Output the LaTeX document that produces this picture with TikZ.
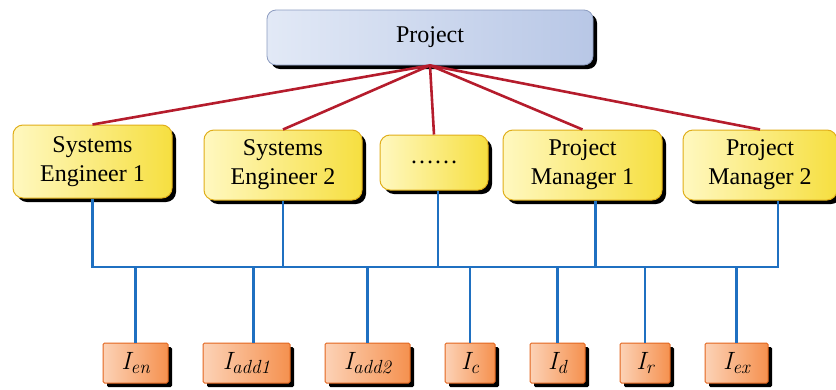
\documentclass[tikz,border=0pt]{standalone}
\usepackage{amsmath}
\usepackage{fontspec}
\setmainfont{Liberation Serif}
\newfontfamily\lmfont{Latin Modern Roman}
\usepackage{tikz}
\usetikzlibrary{shadows}

\definecolor{projLight}{HTML}{E2E9F6}
\definecolor{projDark}{HTML}{B8C7E6}
\definecolor{projLine}{HTML}{8C9CC0}
\definecolor{roleLight}{HTML}{FFF8C0}
\definecolor{roleDark}{HTML}{F6DF40}
\definecolor{roleLine}{HTML}{E0AE1A}
\definecolor{infoLight}{HTML}{FCD2B6}
\definecolor{infoDark}{HTML}{F5914F}
\definecolor{infoLine}{HTML}{E2651E}
\definecolor{redLink}{HTML}{B51C2C}
\definecolor{blueLink}{HTML}{1F70C1}

% item label: italic I with a large italic subscript
\newcommand{\infolabel}[1]{{\lmfont\itshape\fontsize{25}{30}\selectfont I}\raisebox{-4pt}{\lmfont\itshape\fontsize{19}{22}\selectfont #1}}

\begin{document}
\begin{tikzpicture}[x=1pt, y=-1pt,
  shade/.style={drop shadow={shadow xshift=4pt, shadow yshift=-4pt, fill=black, opacity=1}},
  top/.style={rectangle, rounded corners=9pt, draw=projLine, line width=0.8pt,
              left color=projLight, right color=projDark, shade,
              minimum width=326pt, minimum height=55pt, font=\fontsize{24}{29}\selectfont},
  role/.style={rectangle, rounded corners=10pt, draw=roleLine, line width=1pt,
               left color=roleLight, right color=roleDark, shade, align=center,
               minimum height=70pt, inner sep=0pt, font=\fontsize{24}{29}\selectfont},
  info/.style={rectangle, rounded corners=1.5pt, draw=infoLine, line width=1pt,
               left color=infoLight, right color=infoDark, shade,
               minimum height=40pt, inner sep=0pt},
  link/.style={draw=redLink, line width=2.6pt},
  wire/.style={draw=blueLink, line width=2.2pt}
]
\useasboundingbox (0,0) rectangle (836,389);

\node[top] (proj) at (430,37.5) {Project};

\node[role, minimum width=159pt, minimum height=73pt] (se1) at (92.5,161.5) {Systems\\Engineer 1};
\node[role, minimum width=158pt] (se2) at (283,165) {Systems\\Engineer 2};
\node[role, minimum width=108pt, minimum height=55pt] (dots) at (434,162.5) {\raisebox{-3pt}{……}};
\node[role, minimum width=159pt] (pm1) at (582.5,165) {Project\\Manager 1};
\node[role, minimum width=154pt] (pm2) at (760,165) {Project\\Manager 2};

\node[info, minimum width=65pt] (ien) at (135.5,363) {\infolabel{en}};
\node[info, minimum width=87pt] (iadda) at (246.5,363) {\infolabel{add1}};
\node[info, minimum width=85pt] (iaddb) at (367.5,363) {\infolabel{add2}};
\node[info, minimum width=50pt] (ic) at (470,363) {\infolabel{c}};
\node[info, minimum width=55pt] (id) at (557.5,363) {\infolabel{d}};
\node[info, minimum width=50pt] (ir) at (645,363) {\infolabel{r}};
\node[info, minimum width=63pt] (iex) at (736.5,363) {\infolabel{ex}};

% project to roles
\draw[link] (proj.south) -- (se1.north);
\draw[link] (proj.south) -- (se2.north);
\draw[link] (proj.south) -- (dots.north);
\draw[link] (proj.south) -- (pm1.north);
\draw[link] (proj.south) -- (pm2.north);

% roles to the common line
\coordinate (bus) at (0,267);
\draw[wire] (se1.south) -- (se1.south |- bus) -- ([xshift=18pt]pm2.south |- bus) -- ([xshift=18pt]pm2.south);
\draw[wire] (se2.south) -- (se2.south |- bus);
\draw[wire] ([xshift=4pt]dots.south) -- ([xshift=4pt]dots.south |- bus);
\draw[wire] ([xshift=13pt]pm1.south) -- ([xshift=13pt]pm1.south |- bus);

% common line to information items
\draw[wire] (ien.north |- bus) -- (ien.north);
\draw[wire] ([xshift=7pt]iadda.north |- bus) -- ([xshift=7pt]iadda.north);
\draw[wire] (iaddb.north |- bus) -- (iaddb.north);
\draw[wire] (ic.north |- bus) -- (ic.north);
\draw[wire] (id.north |- bus) -- (id.north);
\draw[wire] (ir.north |- bus) -- (ir.north);
\draw[wire] (iex.north |- bus) -- (iex.north);
\end{tikzpicture}
\end{document}
